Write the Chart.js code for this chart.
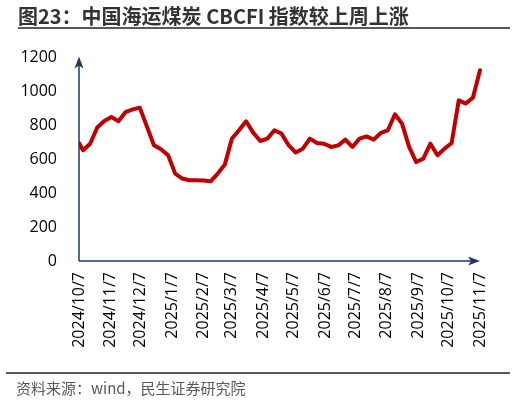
<!DOCTYPE html>
<html><head><meta charset="utf-8">
<script src="https://cdn.jsdelivr.net/npm/chart.js@4.4.0/dist/chart.umd.min.js"></script>
<style>
html,body{margin:0;padding:0;background:#fff;}
#wrap{position:relative;width:516px;height:400px;overflow:hidden;background:#fff;}
canvas{position:absolute;left:0;top:0;}
#title{position:absolute;left:18px;top:4px;font-family:"Noto Sans CJK SC";font-weight:bold;font-size:20px;line-height:23px;color:#333;white-space:nowrap;}
#rule1{position:absolute;left:18px;top:27px;width:492px;height:2px;background:#595959;}
#rule2{position:absolute;left:6px;top:372px;width:504px;height:2px;background:#595959;}
#source{position:absolute;left:16px;top:378px;font-family:"Noto Sans CJK SC";font-size:15px;line-height:20px;color:#595959;white-space:nowrap;}
</style></head>
<body>
<div id="wrap">
<canvas id="c" width="516" height="400"></canvas>
<div id="title">图23：中国海运煤炭 CBCFI 指数较上周上涨</div>
<div id="rule1"></div>
<div id="rule2"></div>
<div id="source">资料来源：wind，民生证券研究院</div>
</div>
<script>
const dates = ['2024-10-07','2024-10-11','2024-10-18','2024-10-25','2024-11-01','2024-11-08','2024-11-15','2024-11-22','2024-11-29',
'2024-12-06','2024-12-13','2024-12-20','2024-12-27','2025-01-03','2025-01-10','2025-01-17','2025-01-24','2025-01-31',
'2025-02-07','2025-02-14','2025-02-21','2025-02-28','2025-03-07','2025-03-14','2025-03-21','2025-03-28',
'2025-04-04','2025-04-11','2025-04-18','2025-04-25','2025-05-02','2025-05-09','2025-05-16','2025-05-23','2025-05-30',
'2025-06-06','2025-06-13','2025-06-20','2025-06-27','2025-07-04','2025-07-11','2025-07-18','2025-07-25',
'2025-08-01','2025-08-08','2025-08-15','2025-08-22','2025-08-29','2025-09-05','2025-09-12','2025-09-19','2025-09-26',
'2025-10-03','2025-10-10','2025-10-17','2025-10-24','2025-10-31','2025-11-07'];
const cbcfi = [694,651,690,785,824,847,822,876,892,902,792,681,657,622,514,485,475,475,474,469,514,567,720,769,822,755,706,720,769,749,681,638,661,720,694,690,671,680,714,671,720,733,714,753,769,863,808,671,582,602,690,622,661,694,945,926,961,1122];
const tickDates = ['2024-10-07','2024-11-07','2024-12-07','2025-01-07','2025-02-07','2025-03-07','2025-04-07','2025-05-07','2025-06-07','2025-07-07','2025-08-07','2025-09-07','2025-10-07','2025-11-07'];
const tickLabels = ['2024/10/7','2024/11/7','2024/12/7','2025/1/7','2025/2/7','2025/3/7','2025/4/7','2025/5/7','2025/6/7','2025/7/7','2025/8/7','2025/9/7','2025/10/7','2025/11/7'];
const yTicks = [0,200,400,600,800,1000,1200];

function dayOffset(s){
  const p = s.split('-').map(Number);
  return (Date.UTC(p[0],p[1]-1,p[2]) - Date.UTC(2024,9,7)) / 86400000;
}
const points = dates.map((d,i)=>({x:dayOffset(d), y:cbcfi[i]}));
const tickDays = tickDates.map(dayOffset);

const axisColor = '#1F3864';
function arrowHead(ctx, x, y, dir){
  ctx.save();
  ctx.translate(x,y);
  ctx.rotate(dir);
  ctx.beginPath();
  ctx.moveTo(0,0);
  ctx.lineTo(-12,-4.5);
  ctx.lineTo(-9,0);
  ctx.lineTo(-12,4.5);
  ctx.closePath();
  ctx.fill();
  ctx.restore();
}
const arrowAxes = {
  id:'arrowAxes',
  afterDraw(chart){
    const ctx = chart.ctx, a = chart.chartArea;
    ctx.save();
    ctx.strokeStyle = axisColor; ctx.fillStyle = axisColor; ctx.lineWidth = 1.5;
    ctx.beginPath();
    ctx.moveTo(a.left, a.bottom); ctx.lineTo(a.left, a.top + 6);
    ctx.moveTo(a.left, a.bottom); ctx.lineTo(a.right - 6, a.bottom);
    ctx.stroke();
    arrowHead(ctx, a.left, a.top - 0.5, -Math.PI/2);
    arrowHead(ctx, a.right, a.bottom, 0);
    ctx.restore();
  }
};

new Chart(document.getElementById('c'), {
  type:'line',
  data:{ datasets:[{ data:points, borderColor:'#C00000', borderWidth:4, pointRadius:0, fill:false, tension:0, borderJoinStyle:'round', borderCapStyle:'round', clip:{left:0, top:false, right:false, bottom:false} }] },
  options:{
    responsive:false, animation:false, devicePixelRatio:1,
    layout:{ padding:{ top:57, right:36, left:0, bottom:0 } },
    plugins:{ legend:{display:false}, tooltip:{enabled:false} },
    scales:{
      x:{ type:'linear', min:0, max:tickDays[tickDays.length-1],
        grid:{display:false, drawTicks:false}, border:{display:false},
        afterBuildTicks(s){ s.ticks = tickDays.map(v=>({value:v})); },
        afterFit(s){ s.height = 139; },
        ticks:{ autoSkip:false, minRotation:90, maxRotation:90, padding:11, color:'#000',
          font:{family:'Open Sans', size:16},
          callback(v){ const i = tickDays.indexOf(v); return i>=0 ? tickLabels[i] : ''; } } },
      y:{ min:yTicks[0], max:yTicks[yTicks.length-1],
        grid:{display:false, drawTicks:false}, border:{display:false},
        afterBuildTicks(s){ s.ticks = yTicks.map(v=>({value:v})); },
        afterFit(s){ s.width = 79; },
        ticks:{ padding:22, color:'#000', font:{family:'Open Sans', size:16},
          callback(v){ return String(v); } } }
    }
  },
  plugins:[arrowAxes]
});
</script>
</body></html>
